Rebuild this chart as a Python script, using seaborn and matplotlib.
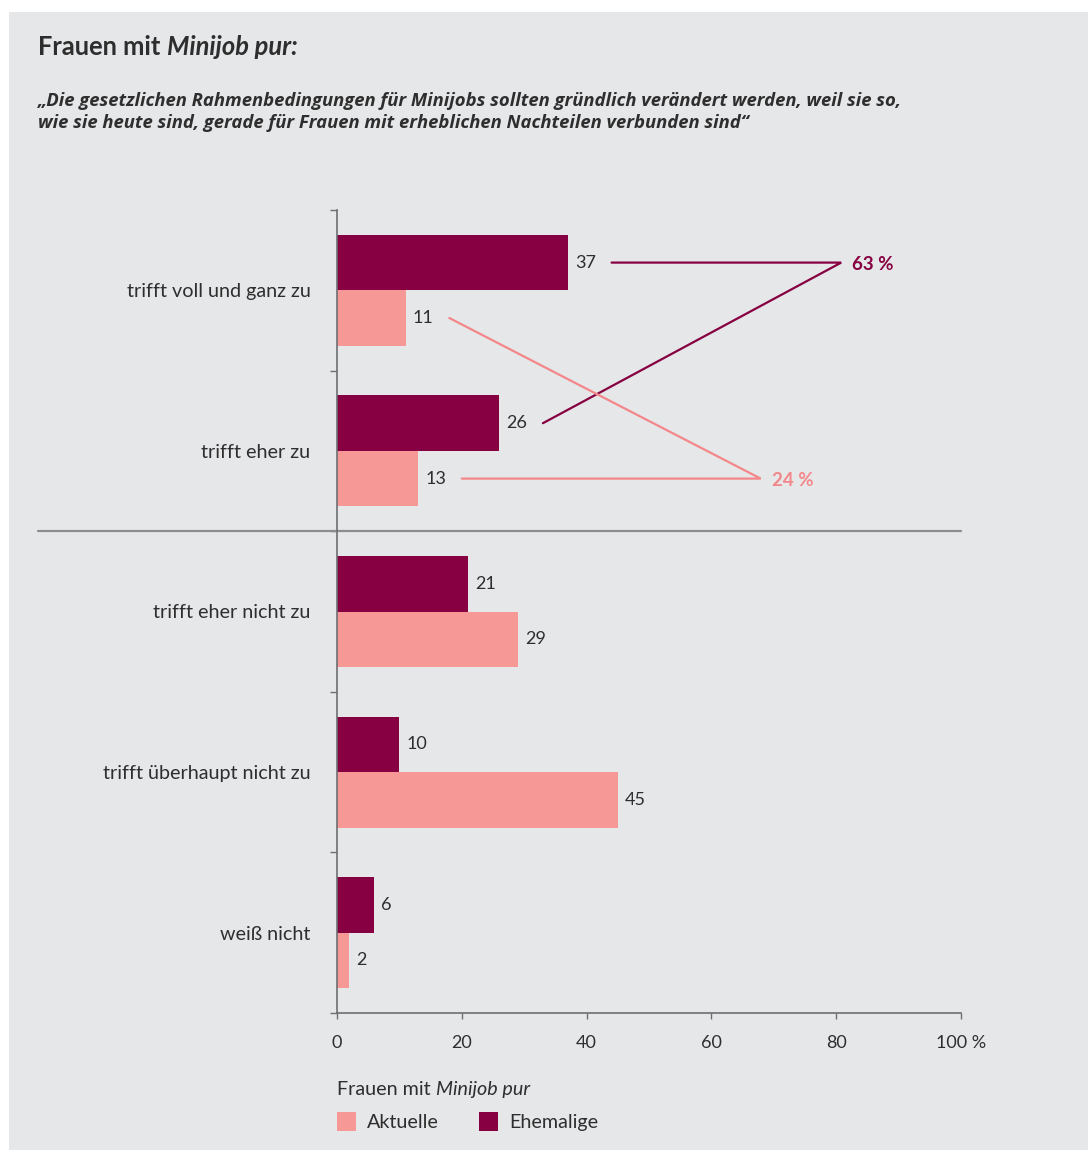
import matplotlib
matplotlib.use("Agg")
import matplotlib.pyplot as plt
import seaborn as sns
import pandas as pd
from matplotlib.patches import Rectangle

# ---------------- data ----------------
categories = ["trifft voll und ganz zu", "trifft eher zu", "trifft eher nicht zu",
              "trifft überhaupt nicht zu", "weiß nicht"]
aktuelle = [11, 13, 29, 45, 2]
ehemalige = [37, 26, 21, 10, 6]
series_names = ["Ehemalige", "Aktuelle"]
x_ticks = [0, 20, 40, 60, 80, 100]
x_tick_labels = ["0", "20", "40", "60", "80", "100 %"]
title_parts = [("Frauen mit ", "normal"), ("Minijob pur:", "italic")]
subtitle_lines = ["„Die gesetzlichen Rahmenbedingungen für Minijobs sollten gründlich verändert werden, weil sie so,",
                  "wie sie heute sind, gerade für Frauen mit erheblichen Nachteilen verbunden sind“"]
legend_title_parts = [("Frauen mit ", "normal"), ("Minijob pur", "italic")]

# ---------------- style ----------------
DARK = "#870041"
PINK = "#f59896"
PINK_LINE = "#f3878a"
BG = "#e6e7e9"
TEXT = "#2e2e2e"
AXIS = "#6d6e71"
SEP = "#8c8d8f"

sns.set_theme(style="white")
plt.rcParams["font.family"] = ["Lato", "DejaVu Sans"]

W, H = 1088, 1150
fig = plt.figure(figsize=(W / 100, H / 100), dpi=100, facecolor="white")
fig.patches.append(Rectangle((9 / W, 0), 1 - 9 / W, 1 - 12 / H, transform=fig.transFigure,
                             facecolor=BG, edgecolor="none", zorder=-10))

ax = fig.add_axes([337 / W, 1 - 1013 / H, 624 / W, (1013 - 210) / H])
ax.set_facecolor("none")

df = pd.DataFrame({
    "Kategorie": categories * 2,
    "Wert": ehemalige + aktuelle,
    "Gruppe": [series_names[0]] * len(categories) + [series_names[1]] * len(categories),
})
sns.barplot(data=df, y="Kategorie", x="Wert", hue="Gruppe", hue_order=series_names,
            order=categories, palette=[DARK, PINK], width=0.69, saturation=1,
            orient="h", legend=False, linewidth=0, edgecolor="none", ax=ax)

for c in ax.containers:
    ax.bar_label(c, padding=5, fontsize=13, color=TEXT)

ax.set_xlim(0, 100)
ax.set_ylim(len(categories) - 0.5, -0.5)
ax.set_xlabel("")
ax.set_ylabel("")
ax.set_xticks(x_ticks, x_tick_labels)
ax.set_yticks(range(len(categories)), categories)
ax.set_yticks([i - 0.5 for i in range(len(categories) + 1)], minor=True)
ax.tick_params(axis="x", which="major", bottom=True, length=4.5, width=1, color=AXIS,
               pad=11, labelsize=13, labelcolor=TEXT)
ax.tick_params(axis="y", which="major", left=False, length=0, pad=19, labelsize=14.2,
               labelcolor=TEXT)
ax.tick_params(axis="y", which="minor", left=True, length=5, width=1, color=AXIS)
for lbl in ax.get_yticklabels():
    lbl.set_va("center_baseline")
for s in ["top", "right"]:
    ax.spines[s].set_visible(False)
for s in ["left", "bottom"]:
    ax.spines[s].set_color(AXIS)
    ax.spines[s].set_linewidth(1.2)

# separator between agreement and disagreement
ax.axhline(1.5, xmin=(38 - 337) / 624, xmax=1, clip_on=False, color=SEP, lw=1.6, zorder=1)

# connector lines summing the two agreement categories
dark_bars = ax.containers[0].patches
pink_bars = ax.containers[1].patches
yc = lambda p: p.get_y() + p.get_height() / 2
gap = 7
dark_end, pink_end = 80.8, 67.9
ax.plot([ehemalige[0] + gap, dark_end, ehemalige[1] + gap],
        [yc(dark_bars[0]), yc(dark_bars[0]), yc(dark_bars[1])],
        color=DARK, lw=1.6, clip_on=False, solid_joinstyle="miter")
ax.plot([aktuelle[0] + gap, pink_end, aktuelle[1] + gap],
        [yc(pink_bars[0]), yc(pink_bars[1]), yc(pink_bars[1])],
        color=PINK_LINE, lw=1.6, clip_on=False, solid_joinstyle="miter")
ax.annotate(f"{ehemalige[0] + ehemalige[1]} %", (dark_end, yc(dark_bars[0])),
            xytext=(8, -1.5), textcoords="offset points", va="center", ha="left",
            fontsize=13.5, fontweight="bold", color=DARK)
ax.annotate(f"{aktuelle[0] + aktuelle[1]} %", (pink_end, yc(pink_bars[1])),
            xytext=(8, -1.5), textcoords="offset points", va="center", ha="left",
            fontsize=13.5, fontweight="bold", color=PINK_LINE)

renderer = fig.canvas.get_renderer()


def rich_text(x_px, y_px, parts, size, weight, color, family=None):
    x = x_px / W
    for txt, style in parts:
        kw = {} if family is None else {"family": family}
        t = fig.text(x, 1 - y_px / H, txt, fontsize=size, fontstyle=style,
                     fontweight=weight, color=color, va="baseline", ha="left", **kw)
        bb = t.get_window_extent(renderer)
        x = bb.x1 / W


rich_text(38, 55, title_parts, 18.4, "bold", TEXT)
for i, line in enumerate(subtitle_lines):
    fig.text(38 / W, 1 - (106 + 22 * i) / H, line, fontsize=13.3, fontstyle="italic",
             fontweight="bold", color=TEXT, va="baseline", ha="left",
             family=["Open Sans", "Lato", "DejaVu Sans"])

# legend
rich_text(337, 1095, legend_title_parts, 14.2, "normal", TEXT)
for (x0, name, col) in [(337, series_names[1], PINK), (479, series_names[0], DARK)]:
    fig.patches.append(Rectangle((x0 / W, 1 - 1131 / H), 19 / W, 19 / H,
                                 transform=fig.transFigure, facecolor=col, edgecolor="none"))
    fig.text((x0 + 30) / W, 1 - 1128 / H, name, fontsize=14.2, color=TEXT,
             va="baseline", ha="left")

fig.savefig("out.png", dpi=100, facecolor="white")
